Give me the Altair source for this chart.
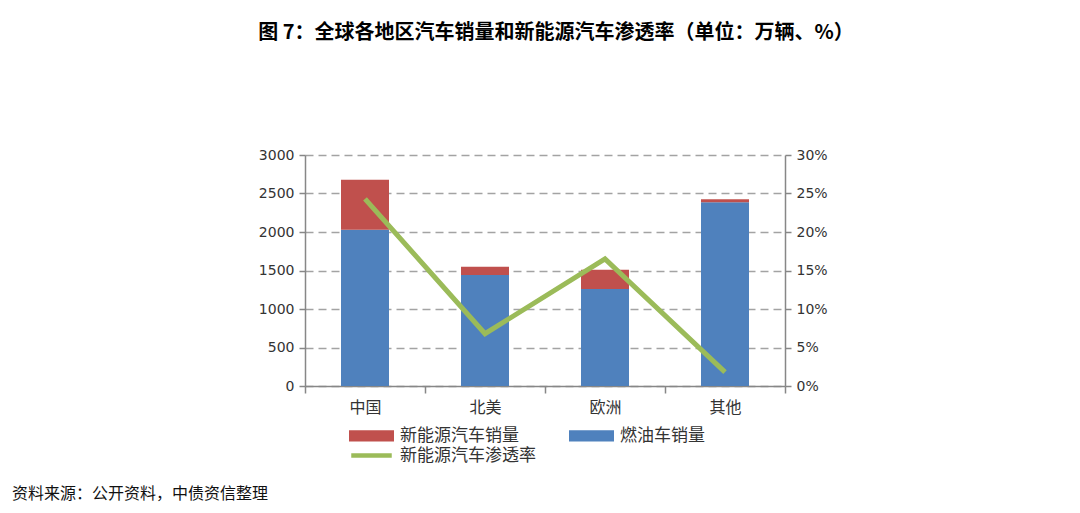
import altair as alt
import pandas as pd

# ---------------- data ----------------
regions = ["中国", "北美", "欧洲", "其他"]
ice_sales = [2030, 1440, 1260, 2385]       # 燃油车销量 (万辆)
nev_sales = [650, 110, 250, 40]            # 新能源汽车销量 (万辆)
nev_rate = [24.3, 6.8, 16.5, 1.8]          # 新能源汽车渗透率 (%)
series_names = ["新能源汽车销量", "燃油车销量"]
line_name = "新能源汽车渗透率"
left_ticks = [0, 500, 1000, 1500, 2000, 2500, 3000]
right_ticks = [0, 5, 10, 15, 20, 25, 30]
title_text = "图 7：全球各地区汽车销量和新能源汽车渗透率（单位：万辆、%）"
source_text = "资料来源：公开资料，中债资信整理"

RED = "#C0504D"
BLUE = "#4F81BD"
GREEN = "#9BBB59"
AX = "#878787"
GRID = "#A3A3A3"
CJK = "Noto Sans CJK SC"
NUM = "DejaVu Sans"

bar_rows = []
for r, ice, nev in zip(regions, ice_sales, nev_sales):
    bar_rows.append({"region": r, "series": series_names[1], "value": ice, "ord": 0})
    bar_rows.append({"region": r, "series": series_names[0], "value": nev, "ord": 1})
bars_df = pd.DataFrame(bar_rows)
line_df = pd.DataFrame({"region": regions, "rate": nev_rate, "metric": [line_name] * len(regions)})
title_df = pd.DataFrame({"t": [title_text]})
source_df = pd.DataFrame({"t": [source_text]})

x_enc = alt.X(
    "region:N",
    sort=regions,
    scale=alt.Scale(paddingInner=0, paddingOuter=0),
    axis=alt.Axis(
        title=None, labelAngle=0, tickBand="extent", tickSize=7, labelPadding=6,
        labelFont=CJK, labelFontSize=16, labelColor="#333333",
        domainColor=AX, tickColor=AX, domainWidth=1.5, tickWidth=1.5,
    ),
)

bars = alt.Chart(bars_df).mark_bar(width=alt.RelativeBandSize(0.4)).encode(
    x=x_enc,
    y=alt.Y(
        "value:Q", stack="zero",
        scale=alt.Scale(domain=[0, 3000], nice=False),
        axis=alt.Axis(
            title=None, values=left_ticks, orient="left", format="d",
            grid=True, gridColor=GRID, gridDash=[8, 5], gridWidth=1.5,
            domainColor=AX, tickColor=AX, domainWidth=1.5, tickWidth=1.5,
            tickSize=6, labelPadding=5, labelFont=NUM, labelFontSize=14,
            labelColor="#333333",
        ),
    ),
    color=alt.Color(
        "series:N",
        scale=alt.Scale(domain=series_names, range=[RED, BLUE]),
        legend=alt.Legend(
            title=None, orient="none", legendX=44, legendY=258, columns=2,
            symbolType="M-1,-0.25L1,-0.25L1,0.25L-1,0.25Z", symbolSize=2025,
            symbolStrokeWidth=0, labelFont=CJK, labelFontSize=17,
            labelColor="#333333", labelOffset=6, columnPadding=50, padding=0,
            labelLimit=300,
        ),
    ),
    order=alt.Order("ord:Q"),
)

line = alt.Chart(line_df).mark_line(strokeWidth=5).encode(
    x=x_enc,
    y=alt.Y(
        "rate:Q",
        scale=alt.Scale(domain=[0, 30], nice=False),
        axis=alt.Axis(
            title=None, values=right_ticks, orient="right", grid=False,
            labelExpr="datum.value + '%'",
            domainColor=AX, tickColor=AX, domainWidth=1.5, tickWidth=1.5,
            tickSize=6, labelPadding=5, labelFont=NUM, labelFontSize=14,
            labelColor="#333333",
        ),
    ),
    stroke=alt.Stroke(
        "metric:N",
        scale=alt.Scale(domain=[line_name], range=[GREEN]),
        legend=alt.Legend(
            title=None, orient="none", legendX=44, legendY=278,
            symbolType="stroke", symbolSize=1640, symbolStrokeWidth=4.5,
            labelFont=CJK, labelFontSize=17, labelColor="#333333",
            labelOffset=6, padding=0, labelLimit=300,
        ),
    ),
)

title = alt.Chart(title_df).mark_text(
    align="center", baseline="middle", font=CJK, fontSize=20,
    fontWeight="bold", color="#000000",
).encode(x=alt.value(251), y=alt.value(-122), text="t:N")

source = alt.Chart(source_df).mark_text(
    align="left", baseline="middle", font=CJK, fontSize=16, color="#111111",
).encode(x=alt.value(-293), y=alt.value(339), text="t:N")

chart = (
    alt.layer(bars, line, title, source)
    .resolve_scale(y="independent")
    .properties(
        width=480, height=231,
        padding={"left": 4, "top": 15, "right": 5, "bottom": 2},
        background="white",
    )
    .configure_view(stroke=None)
)

chart.save("out.html", embed_options={"renderer": "svg", "actions": False})
